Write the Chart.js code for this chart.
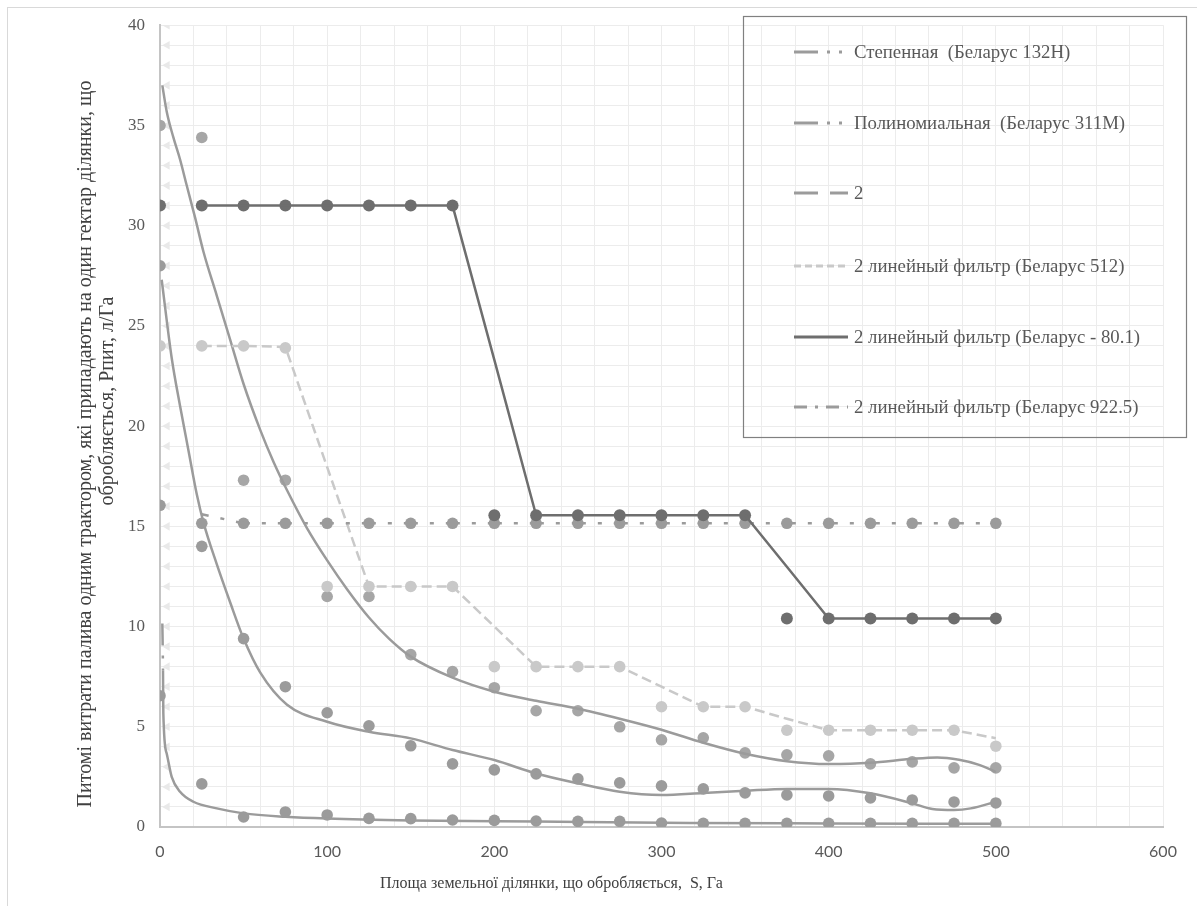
<!DOCTYPE html>
<html><head><meta charset="utf-8">
<script src="https://cdn.jsdelivr.net/npm/chart.js@4/dist/chart.umd.min.js"></script>
<style>html,body{margin:0;padding:0;background:#fff;}canvas{display:block}</style>
</head><body>
<canvas id="c" width="1197" height="906" style="width:1197px;height:906px"></canvas>
<script>
// ---- data ----
const areaS = [0,25,50,75,100,125,150,175,200,225,250,275,300,325,350,375,400,425,450,475,500];
const trendS = [25,50,75,100,125,150,175,200,225,250,275,300,325,350,375,400,425,450,475,500];

const belarus132H = [6.55,2.15,0.5,0.75,0.6,0.43,0.42,0.35,0.33,0.3,0.28,0.28,0.2,0.18,0.18,0.18,0.18,0.18,0.18,0.18,0.18];
const belarus311M = [28,14,9.4,7.0,5.7,5.05,4.05,3.15,2.85,2.65,2.4,2.2,2.05,1.9,1.7,1.6,1.55,1.45,1.35,1.25,1.2];
const belarusUpper = [35,34.4,17.3,17.3,11.5,11.5,8.6,7.75,6.95,5.8,5.8,5.0,4.35,4.45,3.7,3.6,3.55,3.15,3.25,2.95,2.95];
const belarus512 = [24,24,24,23.9,12,12,12,12,8,8,8,8,6,6,6,4.83,4.83,4.83,4.83,4.83,4.03];
const belarus801 = [31,31,31,31,31,31,31,31,15.55,15.55,15.55,15.55,15.55,15.55,15.55,10.4,10.4,10.4,10.4,10.4,10.4];
const belarus9225 = [16.05,15.15,15.15,15.15,15.15,15.15,15.15,15.15,15.15,15.15,15.15,15.15,15.15,15.15,15.15,15.15,15.15,15.15,15.15,15.15,15.15];

// moving-average (period 2) trend lines
const filter512 = [24,24,23.95,17.95,12,12,12,10,8,8,8,7,6,6,5.4,4.83,4.83,4.83,4.83,4.43];
const filter801 = [31,31,31,31,31,31,31,23.3,15.55,15.55,15.55,15.55,15.55,15.55,12.98,10.4,10.4,10.4,10.4,10.4];
const filter9225 = [15.6,15.15,15.15,15.15,15.15,15.15,15.15,15.15,15.15,15.15,15.15,15.15,15.15,15.15,15.15,15.15,15.15,15.15,15.15,15.15];

// fitted curves
const powerX = [1.4,1.8,2,4,7,12,20,34,50,75,100,150,225,317,400,500];
const powerY = [10.15,7.8,5.66,3.67,2.5,1.76,1.26,0.93,0.68,0.51,0.42,0.33,0.27,0.2,0.18,0.16];
const polyMidX = [1,7,12,17,22,26,34,42,50,60,76,100,125,150,175,200,225,250,275,300,325,350,375,400,425,450,462,475,485,500];
const polyMidY = [27.3,23.4,21.0,18.8,16.6,15.2,13.1,11.2,9.4,7.7,6.1,5.25,4.75,4.42,3.84,3.34,2.67,2.18,1.76,1.6,1.7,1.81,1.9,1.9,1.68,1.18,0.9,0.85,0.93,1.26];
const polyUpX = [1.4,4,8,12,16,21,26,34,42,50,60,68,76,88,100,112,125,137,150,175,200,225,250,275,300,325,350,375,400,425,450,465,478,490,500];
const polyUpY = [37,35.7,34.4,33.3,32.0,30.4,28.7,26.5,24.3,22.1,19.8,18.2,16.8,14.9,13.3,11.85,10.45,9.4,8.5,7.45,6.75,6.3,5.9,5.4,4.85,4.2,3.65,3.28,3.14,3.2,3.4,3.47,3.35,3.1,2.75];

// faint arrow marks along the value axis
const arrowYs = [1,2,3,4,5,6,7,8,9,10,11,12,13,14,15,16,17,18,19,20,21,22,23,24,25,26,27,28,29,30,31,32,33,34,35,36,37,38,39,40];
const arrowX = 4.3;

const xTickLabels = [0,100,200,300,400,500,600];
const yTickLabels = [0,5,10,15,20,25,30,35,40];

const legendLabels = ['Степенная  (Беларус 132Н)','Полиномиальная  (Беларус 311М)','2','2 линейный фильтр (Беларус 512)','2 линейный фильтр (Беларус - 80.1)','2 линейный фильтр (Беларус 922.5)'];
const yTitleLines = ['Питомі витрати палива одним трактором, які припадають на один гектар ділянки, що','обробляється, Рпит, л/Га'];
const xTitle = 'Площа земельної ділянки, що обробляється,  S, Га';

// ---- styles ----
const DARK = '#6e6e6e', MID = '#9b9b9b', MIDL = '#a6a6a6', LIGHT = '#c9c9c9';
const legendStyles = [
  {color: MID, dash: [24,9,3,9,3,6]},
  {color: MID, dash: [24,9,3,9,3,9]},
  {color: MID, dash: [24,12]},
  {color: LIGHT, dash: [7,4]},
  {color: DARK, dash: []},
  {color: MID, dash: [13,8,3,8]}
];

const pts = (xs, ys) => xs.map((x, i) => ({x, y: ys[i]}));
const pointSet = (ys, color, order, r) => ({data: pts(areaS, ys), showLine: false, pointRadius: r, pointHoverRadius: r, pointBackgroundColor: color, pointBorderWidth: 0, borderColor: color, order});
const lineSet = (xs, ys, color, dash, width, order, smooth, offset) => ({data: pts(xs, ys), showLine: true, pointRadius: 0, borderColor: color, borderWidth: width, borderDash: dash, borderDashOffset: offset || 0, fill: false, order, cubicInterpolationMode: smooth ? 'monotone' : 'default', tension: 0});

const powerSet = lineSet(powerX, powerY, MID, [], 2.5, 9, true);
powerSet.segment = {borderDash: c => c.p0DataIndex === 0 ? [22,10,3,10,200,1] : undefined};

const datasets = [
  lineSet(trendS, filter801, DARK, [], 2.5, 1, false),
  pointSet(belarus801, DARK, 2, 6),
  lineSet(trendS, filter9225, MID, [14,12,4,12], 2.5, 3, false, 7),
  pointSet(belarus9225, MID, 4, 5.8),
  lineSet(trendS, filter512, LIGHT, [10,5], 2.5, 5, false),
  pointSet(belarus512, LIGHT, 6, 5.8),
  lineSet(polyUpX, polyUpY, MID, [], 2.5, 7, true),
  lineSet(polyMidX, polyMidY, MID, [], 2.5, 8, true),
  powerSet,
  pointSet(belarusUpper, MIDL, 10, 5.8),
  pointSet(belarus311M, MID, 11, 5.8),
  pointSet(belarus132H, MID, 12, 5.8),
  {data: arrowYs.map(y => ({x: arrowX, y})), showLine: false, pointStyle: 'triangle', rotation: -90, pointRadius: 5, pointBackgroundColor: '#e9e9e9', pointBorderWidth: 0, borderColor: '#e9e9e9', order: 50}
];

const overlay = {
  id: 'overlay',
  afterDraw(chart) {
    const ctx = chart.ctx;
    ctx.save();
    // outer frame
    ctx.strokeStyle = '#d9d9d9'; ctx.lineWidth = 1;
    ctx.strokeRect(7.5, 7.5, 1200, 910);
    // legend box
    ctx.strokeStyle = '#808080'; ctx.lineWidth = 1.2;
    ctx.strokeRect(743.5, 16.5, 443, 421);
    const rowY = [52, 123, 193, 266, 337, 407];
    ctx.font = '18.8px "Liberation Serif"';
    ctx.textBaseline = 'middle'; ctx.textAlign = 'left';
    legendLabels.forEach((t, i) => {
      const s = legendStyles[i];
      ctx.beginPath(); ctx.setLineDash(s.dash); ctx.strokeStyle = s.color; ctx.lineWidth = 3;
      ctx.moveTo(794, rowY[i]); ctx.lineTo(848, rowY[i]); ctx.stroke();
      ctx.setLineDash([]);
      ctx.fillStyle = '#595959';
      ctx.fillText(t, 854, rowY[i] + 1);
    });
    // axis titles
    ctx.fillStyle = '#404040';
    ctx.font = '20px "Liberation Serif"';
    ctx.textAlign = 'center'; ctx.textBaseline = 'middle';
    ctx.save(); ctx.translate(86, 444); ctx.rotate(-Math.PI/2); ctx.fillText(yTitleLines[0], 0, 0); ctx.restore();
    ctx.save(); ctx.translate(108, 401); ctx.rotate(-Math.PI/2); ctx.fillText(yTitleLines[1], 0, 0); ctx.restore();
    ctx.font = '16px "Liberation Serif"';
    ctx.textAlign = 'left';
    ctx.fillText(xTitle, 380, 884);
    ctx.restore();
  }
};

new Chart(document.getElementById('c'), {
  type: 'scatter',
  data: {datasets},
  options: {
    responsive: false, animation: false, maintainAspectRatio: false,
    layout: {padding: {left: 0, right: 34, top: 24, bottom: 0}},
    plugins: {legend: {display: false}, tooltip: {enabled: false}, title: {display: false}},
    scales: {
      x: {
        type: 'linear', min: 0, max: 600,
        afterFit: s => { s.height = 79; },
        grid: {color: '#ececec', lineWidth: 1, drawTicks: false},
        border: {color: '#c4c4c4', width: 2},
        ticks: {stepSize: 20, autoSkip: false, maxRotation: 0, padding: 15, color: '#595959', font: {family: 'Lato', size: 16},
          callback: v => xTickLabels.includes(v) ? String(v) : ''}
      },
      y: {
        type: 'linear', min: 0, max: 40,
        afterFit: s => { s.width = 160; },
        grid: {color: '#ececec', lineWidth: 1, drawTicks: false},
        border: {color: '#c4c4c4', width: 2},
        ticks: {stepSize: 1, autoSkip: false, padding: 15, color: '#595959', font: {family: 'Liberation Serif', size: 17},
          callback: v => yTickLabels.includes(v) ? String(v) : ''}
      }
    }
  },
  plugins: [overlay]
});
</script>
</body></html>
